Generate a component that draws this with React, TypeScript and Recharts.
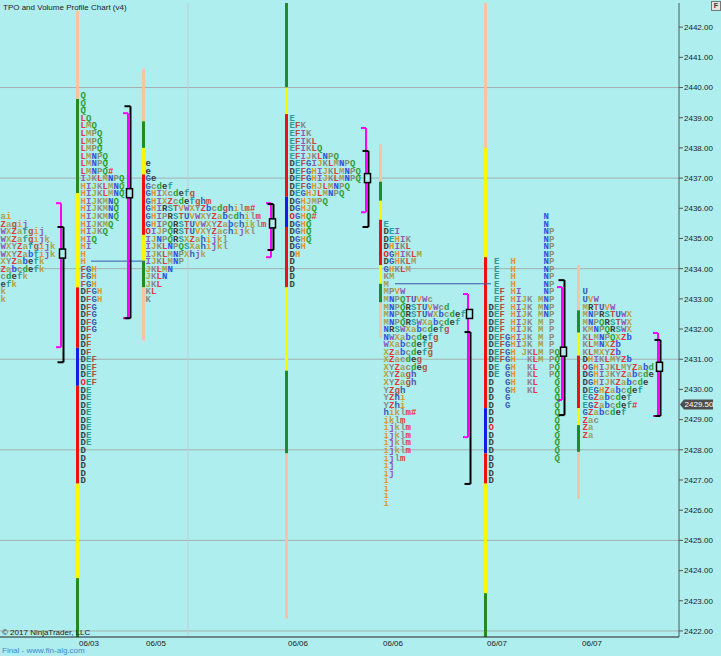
import React from "react";
import { ComposedChart, Scatter, XAxis, YAxis, ReferenceLine, ReferenceDot } from "recharts";

const BG = "#AFEEEE";

// price scale
const priceTicks = [2422, 2423, 2424, 2425, 2426, 2427, 2428, 2429, 2430, 2431, 2432, 2433, 2434, 2435, 2436, 2437, 2438, 2439, 2440, 2441, 2442];
const gridPrices = [2440, 2437, 2434, 2431, 2428, 2425, 2422];
const lastPrice = 2429.5;

// time slots (one slot = one column of the chart)
const dateSlots = [89, 156, 298, 393, 497, 592];
const dateLabels = ["06/03", "06/05", "06/06", "06/06", "06/07", "06/07"];
const sessionBreaks = [188];

// TPO letters, one string per 0.25 row, from the top price down
const profileSlot = [0.5, 80.5, 145.5, 289.5, 383.5, 488.5, 582.5];
const profileTop = [2435.75, 2439.75, 2437.5, 2439.0, 2435.5, 2435.75, 2433.25];

const tpo0 = ["ai", "Zagij", "WXZafgij", "WXZafgijk", "WXYZafgijk", "WXYZabfijk", "XYZabefk", "Zabcdefk", "cdefk", "efk", "k", "k"];
const tpo1 = [
  "Q", "Q", "Q", "LQ", "LMQ", "LMPQ", "LMPQ", "LMPQ", "LMNPQ", "LMNPQ", "LMNPQ#", "IJKLMNPQ",
  "HIJKLMNQ", "HIJKLMNQ", "HIJKMNQ", "HIJKMNQ", "HIJKMNQ", "HIJKMQ", "HIJKQ", "HIQ", "HI", "H", "H",
  "FGH", "FGH", "FGH", "DFGH", "DFGH", "DFG", "DFG", "DFG", "DFG", "DF", "DF", "DF", "DEF", "DEF", "DEF", "OEF",
  "DE", "DE", "DE", "DE", "DE", "DE", "DE", "DE", "D", "D", "D", "D", "D",
];
const tpo2 = [
  "e", "e", "Ge", "Gcdef", "GHIXcdefg", "GHIXZcdefghm", "GHIRSTVWXYZbcdghilm#", "GHIPRSTUVWXYZabcdhilm",
  "GHIPQRSTUVWXYZabchiklm", "OIJPQRSTUVXYZachijkl", "IJNPQRSXZahijkl", "IJKLNPQSXahijkl", "IJKLMNPXhjk",
  "IJKLMNP", "JKLMN", "JKLN", "JKL", "KL", "K",
];
const tpo3 = [
  "E", "EFK", "EFIK", "EFIKL", "EFIKLQ", "EFIJKLNPQ", "DEFGIJKLMNPQ", "DEFGHIJKLMNPQ", "DEFGHIJKLMNPQ",
  "DEFGHJLMNPQ", "DEGHJLMNPQ", "DGHJMPQ", "DGHJQ", "OGHQ#", "DGHQ", "DGHQ", "DGHQ", "DGH", "DH", "D", "D", "D", "D",
];
const tpo4 = [
  "E", "DEI", "DEHIK", "DHIKL", "OGHIKLM", "DGHKLM", "GHKLM", "KM", "M", "MPVW", "MNPQTUVWc", "MNPQRSTUVWcd",
  "MNPQRSTUWXbcdef", "MNPQRSWXabcdef", "NRSWXabcdefg", "NWXabcdefg", "WXabcdefg", "XZabcdefg", "XZacdeg",
  "XYZacdeg", "XYZagh", "XYZagh", "YZgh", "YZhi", "YZhi", "hiklm#", "iklm", "ijklm", "ijklm", "ijklm", "ijklm",
  "ijlm", "ij", "ij", "i", "i", "i", "i",
];
const tpo5 = [
  "          N", "          N", "          NP", "          NP", "          NP", "          NP",
  " E  H     NP", " E  H     NP", " E  H     NP", " E  H     NP", " EF HI    NP", " EF HIJK MNP",
  "DEF HIJK MNP", "DEF HIJK MNP", "DEF HIJK M P", "DEF HIJK M P", "DEFGHIJK M P", "DEFGHIJK M P",
  "DEFGH JKLM PQ", "DEFGH  KLM PQ", "DE GH  KL  PQ", "DE GH  KL  PQ", "D  GH  KL   Q", "D  GH  KL   Q",
  "D  G        Q", "D  G        Q", "D           Q", "D           Q", "O           Q", "D           Q",
  "D           Q", "D           Q", "D           Q", "D", "D", "D",
];
const tpo6 = [
  "U", "UVW", "MRTUVW", "MNPRSTUWX", "MNPQRSTWX", "KMNPQRSWX", "KLMNPQXZb", "KLMNXZb", "KLMXYZb", "DHIKLMYZb",
  "OGHIJKLMYZabd", "DGHIJKYZabcde", "DGHIJKZabcde", "DEGHZabcdef", "EGZabcdef", "EGZabcdef#", "GZabcdef",
  "Zac", "Za", "Za",
];
const tpoRows = [tpo0, tpo1, tpo2, tpo3, tpo4, tpo5, tpo6];

// volume profile bars: [from price, to price, zone]
const volSlot = [77.5, 143.5, 286.5, 380.5, 485.5, 578.5];
const vol1: [number, number, string][] = [[2442.55, 2439.62, "pk"], [2439.62, 2436.5, "gn"], [2436.5, 2433.38, "yl"], [2433.38, 2431.38, "rd"], [2431.38, 2430.12, "bl"], [2430.12, 2426.88, "rd"], [2426.88, 2423.75, "yl"], [2423.75, 2421.8, "gn"]];
const vol2: [number, number, string][] = [[2440.62, 2438.88, "pk"], [2438.88, 2438.0, "gn"], [2438.0, 2437.12, "yl"], [2437.12, 2435.12, "rd"], [2435.12, 2434.25, "yl"], [2434.25, 2433.38, "gn"], [2433.38, 2431.62, "pk"]];
const vol3: [number, number, string][] = [[2442.8, 2440.0, "gn"], [2440.0, 2439.12, "yl"], [2439.12, 2436.38, "rd"], [2436.38, 2435.38, "bl"], [2435.38, 2433.38, "rd"], [2433.38, 2430.62, "yl"], [2430.62, 2427.88, "gn"], [2427.88, 2422.42, "pk"]];
const vol4: [number, number, string][] = [[2438.12, 2436.88, "pk"], [2436.88, 2436.25, "gn"], [2436.25, 2435.62, "yl"], [2435.62, 2434.12, "rd"], [2434.12, 2433.5, "yl"], [2433.5, 2432.88, "gn"], [2432.88, 2431.7, "pk"]];
const vol5: [number, number, string][] = [[2442.8, 2438.0, "pk"], [2438.0, 2434.38, "yl"], [2434.38, 2429.38, "rd"], [2429.38, 2427.88, "bl"], [2427.88, 2426.88, "rd"], [2426.88, 2423.25, "yl"], [2423.25, 2421.8, "gn"]];
const vol6: [number, number, string][] = [[2434.12, 2432.62, "pk"], [2432.62, 2431.88, "gn"], [2431.88, 2431.12, "yl"], [2431.12, 2429.38, "rd"], [2429.38, 2428.82, "yl"], [2428.82, 2427.93, "gn"], [2427.93, 2426.38, "pk"]];
const volBars = [vol1, vol2, vol3, vol4, vol5, vol6];

// value areas (magenta = TPO, black = volume) and POC
const vaSlot = [61, 128, 271, 366, 468, 562, 658];
const tpoVA = [[2436.17, 2431.4], [2439.15, 2432.36], [2436.17, 2434.38], [2438.66, 2435.87], [2433.16, 2428.42], [2433.39, 2429.65], [2431.87, 2429.12]];
const volVA = [[2435.38, 2430.9], [2439.38, 2432.36], [2436.14, 2434.62], [2437.9, 2435.38], [2431.9, 2426.87], [2433.62, 2429.15], [2431.64, 2429.12]];
const pocPrice = [2434.5, 2436.5, 2435.5, 2437.0, 2432.5, 2431.25, 2430.75];

// naked POC lines
const nakedFrom = [91, 395];
const nakedTo = [145, 491];
const nakedPrice = [2434.25, 2433.5];

const ZONE: Record<string, string> = { pk: "#f8c2a4", gn: "#238b23", yl: "#f8f800", rd: "#f01010", bl: "#1a1ae6" };
const SEQ = "ABCDEFGHIJKLMNPQRSTUVWXYZabcdefghijklmnopqrstuvwxyz";
const PALETTE = ["#2d4fe0", "#8c8c74", "#2e9e2e", "#3c3c3c", "#2a9a9a", "#b4503c", "#3a5ab4", "#e0962a", "#8a5ab8", "#b8a040", "#8a8a8a", "#e03a3a", "#a8a050"];
const CHAR_W = 5.5;

function letterColor(ch: string) {
  if (ch === "O" || ch === "#") return "#e8202a";
  const i = SEQ.indexOf(ch);
  return i < 0 ? "#333" : PALETTE[i % 13];
}

const tpoPoints = tpoRows.flatMap((rows, p) =>
  rows.map((text, i) => ({ x: profileSlot[p], y: profileTop[p] - i * 0.25, text }))
);

// one <text> per row, one tspan per letter so each sits in its column
function TpoRow(props: any) {
  const { cx, cy, payload } = props;
  if (cx == null || cy == null) return <g />;
  const chars: string[] = payload.text.split("");
  return (
    <text y={cy} fontSize={9} fontWeight="bold" fontFamily="'Liberation Mono', 'Courier New', monospace">
      {chars.map((ch, i) =>
        ch === " " ? null : (
          <tspan key={i} x={cx + i * CHAR_W} dy={i === 0 || chars.slice(0, i).every((c) => c === " ") ? "0.35em" : 0} fill={letterColor(ch)}>
            {ch}
          </tspan>
        )
      )}
    </text>
  );
}

function seg(key: string, x1: number, y1: number, x2: number, y2: number, stroke: string, w: number) {
  return (
    <ReferenceLine key={key} segment={[{ x: x1, y: y1 }, { x: x2, y: y2 }]} stroke={stroke} strokeWidth={w} ifOverflow="visible" />
  );
}

const label: React.CSSProperties = { position: "absolute", left: 3, fontSize: 8, lineHeight: "10px", fontFamily: "'Liberation Sans', Arial, sans-serif", color: "#222", whiteSpace: "nowrap" };

export default function App() {
  return (
    <div style={{ position: "absolute", left: 0, top: 0, width: 721, height: 656, background: BG, overflow: "hidden" }}>
      <ComposedChart width={721} height={656} margin={{ top: 3, right: 0, bottom: 0, left: 0 }}>
        <XAxis
          type="number"
          dataKey="x"
          domain={[0, 679]}
          allowDataOverflow
          ticks={dateSlots}
          interval={0}
          tickFormatter={(v: number) => dateLabels[dateSlots.indexOf(v)] ?? ""}
          tickLine={false}
          tickSize={0}
          tickMargin={3}
          height={19}
          axisLine={{ stroke: "#222" }}
          tick={{ fontSize: 8, fill: "#222", fontFamily: "'Liberation Sans', Arial" }}
        />
        <YAxis
          type="number"
          dataKey="y"
          orientation="right"
          domain={[2421.8, 2442.8]}
          allowDataOverflow
          ticks={priceTicks}
          interval={0}
          width={42}
          tickSize={4}
          tickMargin={1}
          tickFormatter={(v: number) => v.toFixed(2)}
          axisLine={{ stroke: "#555" }}
          tickLine={{ stroke: "#555" }}
          tick={{ fontSize: 8, fill: "#222", fontFamily: "'Liberation Sans', Arial", textAnchor: "start" }}
        />
        {gridPrices.map((p) => (
          <ReferenceLine key={"g" + p} y={p} stroke="#a4b0b0" strokeWidth={1} />
        ))}
        {sessionBreaks.map((s) => (
          <ReferenceLine key={"s" + s} x={s} stroke="#c4cccc" strokeWidth={1} />
        ))}
        {volBars.flatMap((bar, b) => bar.map(([from, to, z], i) => seg(`v${b}-${i}`, volSlot[b], from, volSlot[b], to, ZONE[z], 3)))}
        {nakedPrice.map((p, i) => seg(`n${i}`, nakedFrom[i], p, nakedTo[i], p, "#3a56a8", 1))}
        {vaSlot.flatMap((x, i) => {
          const bx = x + 2.5;
          const [mt, mb] = tpoVA[i];
          const [bt, bb] = volVA[i];
          return [
            seg(`m${i}a`, x, mt, x, mb, "#ff00ff", 2),
            seg(`m${i}b`, x - 5, mt, x, mt, "#ff00ff", 2),
            seg(`m${i}c`, x - 5, mb, x, mb, "#ff00ff", 2),
            seg(`b${i}a`, bx, bt, bx, bb, "#000", 2),
            seg(`b${i}b`, bx - 6, bt, bx, bt, "#000", 2),
            seg(`b${i}c`, bx - 6, bb, bx, bb, "#000", 2),
          ];
        })}
        {pocPrice.map((p, i) => (
          <ReferenceDot
            key={"poc" + i}
            x={vaSlot[i] + 1.5}
            y={p}
            r={0}
            ifOverflow="visible"
            shape={(d: any) => <rect x={d.cx - 3} y={d.cy - 4.5} width={6} height={9} fill={BG} stroke="#000" strokeWidth={1.5} />}
          />
        ))}
        <Scatter data={tpoPoints} dataKey="y" isAnimationActive={false} shape={(p: any) => <TpoRow {...p} />} />
        <ReferenceDot
          x={679}
          y={lastPrice}
          r={0}
          ifOverflow="visible"
          shape={(d: any) => (
            <g>
              <polygon points={`${d.cx + 1},${d.cy} ${d.cx + 5},${d.cy - 5} ${d.cx + 34},${d.cy - 5} ${d.cx + 34},${d.cy + 5} ${d.cx + 5},${d.cy + 5}`} fill="#4e4e4e" />
              <text x={d.cx + 20} y={d.cy} dy="0.35em" textAnchor="middle" fill="#fff" fontSize={8} fontFamily="'Liberation Sans', Arial">
                {lastPrice.toFixed(2)}
              </text>
            </g>
          )}
        />
      </ComposedChart>
      <div style={{ ...label, top: 3 }}>TPO and Volume Profile Chart (v4)</div>
      <div style={{ ...label, left: 2, top: 628 }}>© 2017 NinjaTrader, LLC</div>
      <div style={{ ...label, left: 2, top: 646, color: "#3a8ad0" }}>Final - www.fin-alg.com</div>
      <div style={{ position: "absolute", left: 711, top: 1, width: 8, height: 8, border: "1px solid #777", background: "#e4e4e4", fontSize: 7, lineHeight: "8px", textAlign: "center", fontFamily: "'Liberation Sans', Arial", fontWeight: "bold", color: "#333" }}>F</div>
    </div>
  );
}
